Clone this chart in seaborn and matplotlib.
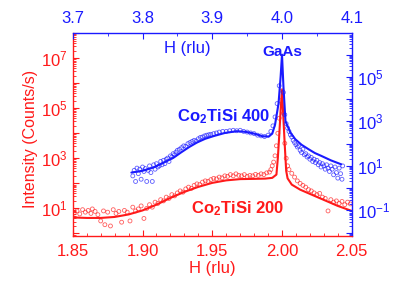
import matplotlib
matplotlib.use("Agg")
import matplotlib.pyplot as plt
import matplotlib.ticker as mticker
import numpy as np
import pandas as pd
import seaborn as sns

# Co2TiSi 200 (bottom H axis, left intensity axis), log10 of counts/s
red_h = [1.851, 1.853, 1.855, 1.857, 1.859, 1.861, 1.863, 1.864, 1.866, 1.868,
         1.870, 1.872, 1.873, 1.875, 1.877, 1.879, 1.881, 1.883, 1.885, 1.887,
         1.889, 1.891, 1.893, 1.895, 1.897, 1.899, 1.901, 1.903, 1.905, 1.907,
         1.909, 1.911, 1.913, 1.915, 1.917, 1.919, 1.921, 1.923, 1.925, 1.927,
         1.929, 1.931, 1.933, 1.935, 1.937, 1.939, 1.941, 1.943, 1.945, 1.947,
         1.949, 1.951, 1.953, 1.955, 1.957, 1.959, 1.961, 1.963, 1.965, 1.967,
         1.969, 1.971, 1.973, 1.975, 1.977, 1.979, 1.981, 1.983, 1.985, 1.987,
         1.989, 1.991, 1.992, 1.993, 1.994, 1.995, 1.996, 1.997, 1.998, 1.999,
         2.000, 2.001, 2.002, 2.003, 2.004, 2.005, 2.007, 2.009, 2.011, 2.013,
         2.015, 2.017, 2.019, 2.021, 2.023, 2.025, 2.027, 2.029, 2.031, 2.033,
         2.035, 2.037, 2.039, 2.041, 2.043, 2.045, 2.047, 2.049]
red_log = [0.82, 0.90, 0.78, 0.95, 0.85, 0.92, 0.80, 0.98, 0.88, 0.75,
           0.50, 0.90, 0.35, 0.85, 0.30, 0.95, 0.80, 0.88, 0.45, 0.92,
           0.85, 0.50, 1.05, 0.90, 0.98, 1.10, 0.60, 1.00, 1.15, 1.05,
           1.25, 1.20, 1.35, 1.30, 1.45, 1.40, 1.55, 1.50, 1.62, 1.70,
           1.65, 1.78, 1.85, 1.80, 1.92, 1.98, 1.95, 2.05, 2.10, 2.08,
           2.15, 2.20, 2.18, 2.25, 2.22, 2.30, 2.28, 2.35, 2.30, 2.38,
           2.32, 2.30, 2.35, 2.28, 2.32, 2.30, 2.36, 2.32, 2.38, 2.35,
           2.42, 2.45, 2.55, 2.70, 2.85, 3.10, 3.50, 4.00, 4.60, 5.30,
           5.70, 4.80, 3.60, 3.00, 2.70, 2.55, 2.40, 2.25, 2.10, 2.00,
           1.92, 1.85, 1.75, 1.70, 1.62, 1.55, 1.60, 1.45, 1.40, 0.90,
           1.35, 1.25, 1.30, 1.20, 1.28, 1.15, 1.25, 1.18]
red_fit_h = [1.850, 1.860, 1.870, 1.880, 1.890, 1.900, 1.910, 1.920, 1.930, 1.940,
             1.950, 1.960, 1.970, 1.980, 1.988, 1.993, 1.996, 1.997, 1.998, 1.999,
             2.000, 2.001, 2.002, 2.003, 2.004, 2.007, 2.013, 2.020, 2.025, 2.030,
             2.035, 2.040, 2.045, 2.050]
red_fit_log = [0.64, 0.62, 0.62, 0.66, 0.76, 0.92, 1.15, 1.42, 1.66, 1.86,
               2.02, 2.12, 2.17, 2.18, 2.19, 2.22, 2.35, 3.00, 3.90, 4.90,
               5.73, 4.60, 3.50, 2.50, 2.20, 1.95, 1.75, 1.58, 1.46, 1.34,
               1.22, 1.10, 1.00, 0.90]

# Co2TiSi 400 (top H axis, right intensity axis)
blue_h = [3.786, 3.788, 3.790, 3.792, 3.794, 3.796, 3.798, 3.800, 3.802, 3.804,
          3.806, 3.808, 3.810, 3.812, 3.814, 3.816, 3.818, 3.820, 3.822, 3.824,
          3.826, 3.828, 3.830, 3.832, 3.834, 3.836, 3.838, 3.840, 3.842, 3.844,
          3.846, 3.848, 3.850, 3.853, 3.856, 3.859, 3.862, 3.865, 3.868, 3.871,
          3.874, 3.877, 3.880, 3.883, 3.886, 3.889, 3.892, 3.895, 3.898, 3.902,
          3.906, 3.910, 3.915, 3.920, 3.925, 3.930, 3.935, 3.940, 3.945, 3.950,
          3.955, 3.960, 3.965, 3.970, 3.975, 3.980, 3.984, 3.987, 3.990, 3.993,
          3.996, 4.002, 4.004, 4.006, 4.008, 4.010, 4.012, 4.014, 4.016, 4.018,
          4.020, 4.022, 4.024, 4.026, 4.028, 4.030, 4.032, 4.034, 4.036, 4.038,
          4.040, 4.042, 4.044, 4.046, 4.048, 4.050, 4.052, 4.054, 4.056, 4.058,
          4.060, 4.062, 4.064, 4.066, 4.068, 4.070, 4.072, 4.074, 4.076, 4.078,
          4.080, 4.082, 4.084, 4.086, 4.087]
blue_log = [0.55, 0.80, 0.30, 0.90, 0.65, 0.85, 0.40, 0.95, 0.75, 0.88,
            0.30, 0.80, 1.00, 0.70, 0.30, 1.05, 0.85, 1.10, 0.95, 1.00,
            1.20, 1.05, 1.25, 1.10, 1.30, 1.35, 1.20, 1.45, 1.40, 1.55,
            1.50, 1.62, 1.70, 1.75, 1.82, 1.90, 1.88, 2.00, 2.05, 2.10,
            2.15, 2.12, 2.22, 2.28, 2.30, 2.35, 2.38, 2.40, 2.42, 2.45,
            2.48, 2.52, 2.55, 2.55, 2.58, 2.60, 2.58, 2.60, 2.55, 2.52,
            2.48, 2.45, 2.38, 2.35, 2.32, 2.38, 2.55, 2.80, 3.20, 3.80,
            4.60, 4.30, 3.30, 2.90, 2.70, 2.55, 2.40, 2.30, 2.15, 2.05,
            1.95, 1.85, 1.90, 1.70, 1.60, 1.75, 1.50, 1.55, 1.40, 1.45,
            1.30, 1.38, 1.20, 1.30, 1.15, 1.25, 1.05, 1.15, 0.95, 1.10,
            1.00, 0.85, 1.05, 0.90, 0.75, 1.00, 0.85, 0.60, 0.95, 0.70,
            0.45, 0.90, 0.65, 0.40, 1.00]
blue_fit_h = [3.784, 3.800, 3.815, 3.830, 3.845, 3.855, 3.867, 3.878, 3.890, 3.902,
              3.918, 3.935, 3.948, 3.960, 3.972, 3.981, 3.986, 3.990, 3.995, 3.998,
              4.000, 4.002, 4.005, 4.012, 4.019, 4.028, 4.038, 4.047, 4.057, 4.070,
              4.085]
blue_fit_log = [0.70, 0.78, 0.92, 1.14, 1.38, 1.60, 1.85, 2.05, 2.22, 2.34,
                2.48, 2.56, 2.53, 2.45, 2.33, 2.32, 2.45, 2.85, 3.80, 5.00,
                6.00, 4.60, 3.00, 2.50, 2.20, 1.95, 1.75, 1.58, 1.44, 1.25,
                1.07]

RED = "#ff1a1a"
BLUE = "#1a1aff"

sns.set_style("ticks")
plt.rcParams["font.family"] = ["Liberation Sans", "DejaVu Sans"]
plt.rcParams["mathtext.fontset"] = "custom"
plt.rcParams["mathtext.rm"] = "Liberation Sans"
plt.rcParams["mathtext.bf"] = "Liberation Sans:bold"
plt.rcParams["mathtext.it"] = "Liberation Sans:italic"

red_pts = pd.DataFrame({"H": red_h, "I": 10 ** np.array(red_log)})
red_fit = pd.DataFrame({"H": red_fit_h, "I": 10 ** np.array(red_fit_log)})
blue_pts = pd.DataFrame({"H": blue_h, "I": 10 ** np.array(blue_log)})
blue_fit = pd.DataFrame({"H": blue_fit_h, "I": 10 ** np.array(blue_fit_log)})

fig = plt.figure(figsize=(4.09, 2.85), dpi=100)
rect = [0.178, 0.172, 0.682, 0.712]
ax = fig.add_axes(rect)
ax2 = fig.add_axes(rect, frameon=False)

sns.scatterplot(data=red_pts, x="H", y="I", ax=ax, marker="o", s=8,
                facecolor="none", edgecolor=RED, linewidth=0.6, alpha=0.7)
sns.lineplot(data=red_fit, x="H", y="I", ax=ax, color=RED, lw=1.5,
             estimator=None, sort=True)
sns.scatterplot(data=blue_pts, x="H", y="I", ax=ax2, marker="o", s=8,
                facecolor="none", edgecolor=BLUE, linewidth=0.6, alpha=0.7)
sns.lineplot(data=blue_fit, x="H", y="I", ax=ax2, color=BLUE, lw=1.5,
             estimator=None, sort=True)


def odd_decades(v, pos):
    e = int(round(np.log10(v)))
    if abs(np.log10(v) - e) > 1e-6 or e % 2 == 0:
        return ""
    return r"$\mathdefault{10^{%d}}$" % e


for a, lo, hi in [(ax, 10 ** -0.1, 1e8), (ax2, 10 ** -2.15, 10 ** 6.97)]:
    a.set_yscale("log")
    a.set_ylim(lo, hi)
    a.yaxis.set_major_locator(mticker.LogLocator(base=10, numticks=20))
    a.yaxis.set_minor_locator(mticker.LogLocator(base=10, subs=np.arange(2, 10), numticks=20))
    a.yaxis.set_major_formatter(mticker.FuncFormatter(odd_decades))
    a.yaxis.set_minor_formatter(mticker.NullFormatter())
    a.set_xlabel("")
    a.set_ylabel("")

ax.set_xlim(1.85, 2.05)
ax.xaxis.set_major_locator(mticker.MultipleLocator(0.05))
ax.xaxis.set_minor_locator(mticker.MultipleLocator(0.01))
ax.xaxis.set_major_formatter(mticker.FormatStrFormatter("%.2f"))
ax2.set_xlim(3.7, 4.1)
ax2.xaxis.set_major_locator(mticker.MultipleLocator(0.1))
ax2.xaxis.set_minor_locator(mticker.MultipleLocator(0.05))
ax2.xaxis.set_major_formatter(mticker.FormatStrFormatter("%.1f"))
ax2.xaxis.tick_top()
ax2.yaxis.tick_right()
ax2.patch.set_visible(False)

ax.tick_params(which="both", direction="in", colors=RED, labelsize=12,
               top=False, right=False)
ax.tick_params(which="major", length=4, width=0.8)
ax.tick_params(which="minor", length=2, width=0.6)
ax2.tick_params(which="both", direction="in", colors=BLUE, labelsize=12,
                bottom=False, left=False, top=True, right=True)
ax2.tick_params(which="major", length=4, width=0.8)
ax2.tick_params(which="minor", length=2, width=0.6)
ax.tick_params(axis="x", pad=6)
ax2.tick_params(axis="x", pad=5)

ax.spines["left"].set_color(RED)
ax.spines["bottom"].set_color(RED)
ax.spines["top"].set_color(BLUE)
ax.spines["right"].set_color(BLUE)
for s in ax.spines.values():
    s.set_linewidth(1.0)

ax.set_xlabel("H (rlu)", color=RED, fontsize=12, labelpad=1)
ax.set_ylabel("Intensity (Counts/s)", color=RED, fontsize=11.5, labelpad=2)
ax.yaxis.set_label_coords(-0.125, 0.48)
ax.text(0.409, 0.926, "H (rlu)", transform=ax.transAxes, color=BLUE,
        fontsize=12, ha="center", va="center")
ax.text(0.752, 0.905, "GaAs", transform=ax.transAxes, color=BLUE,
        fontsize=11, fontweight="bold", ha="center", va="center")
ax.text(0.54, 0.586, r"Co$_{\mathbf{2}}$TiSi 400", transform=ax.transAxes,
        color=BLUE, fontsize=12, fontweight="bold", ha="center", va="center")
ax.text(0.59, 0.136, r"Co$_{\mathbf{2}}$TiSi 200", transform=ax.transAxes,
        color=RED, fontsize=12, fontweight="bold", ha="center", va="center")

fig.savefig("out.png", dpi=100)
